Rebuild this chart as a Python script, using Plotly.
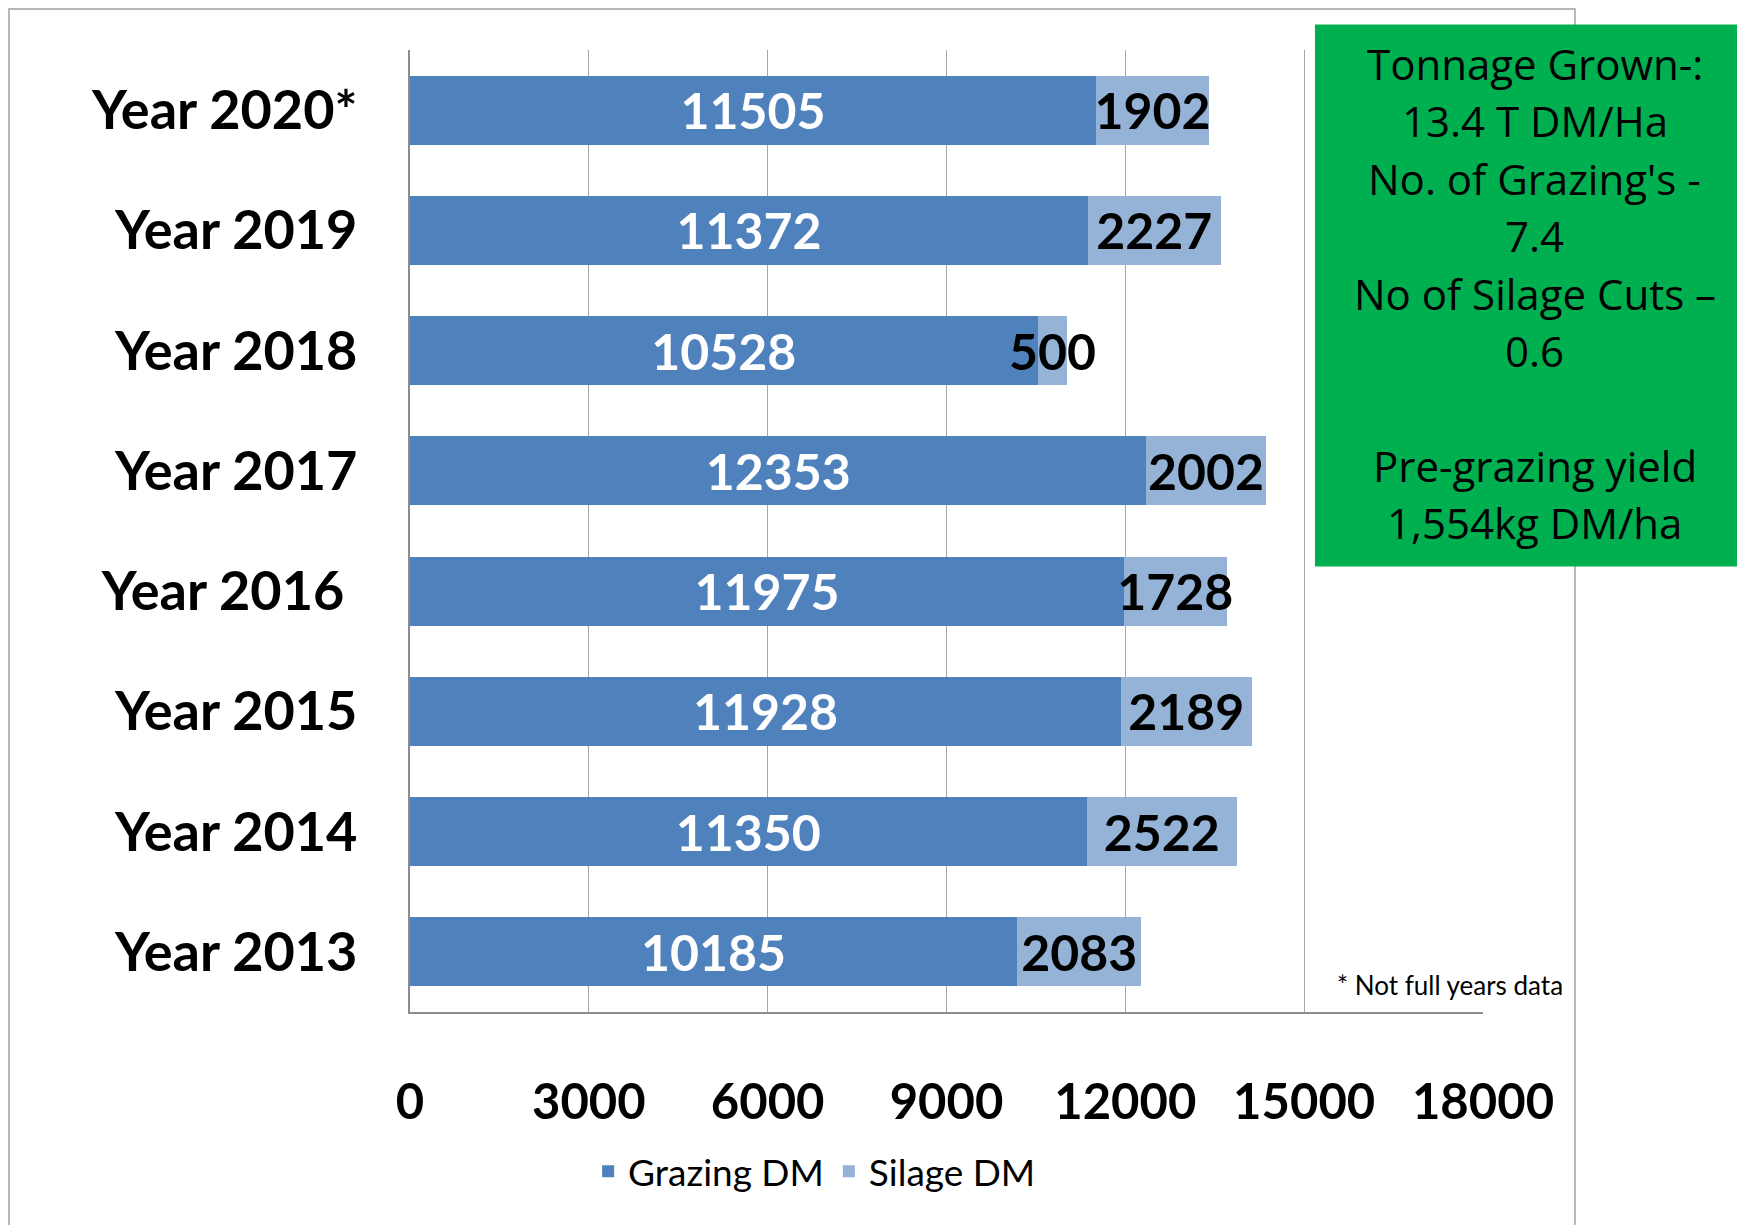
import plotly.graph_objects as go

years = ["Year 2020*", "Year 2019", "Year 2018", "Year 2017",
         "Year 2016\u00a0", "Year 2015", "Year 2014", "Year 2013"]
grazing_dm = [11505, 11372, 10528, 12353, 11975, 11928, 11350, 10185]
silage_dm = [1902, 2227, 500, 2002, 1728, 2189, 2522, 2083]
x_ticks = [0, 3000, 6000, 9000, 12000, 15000, 18000]

info_lines = ["Tonnage Grown-:", "13.4 T DM/Ha", "No. of Grazing's -", "7.4",
              "No of Silage Cuts \u2013", "0.6", "", "Pre-grazing yield", "1,554kg DM/ha"]

FONT = "Lato, sans-serif"

fig = go.Figure()
fig.add_trace(go.Bar(
    y=years, x=grazing_dm, name="Grazing DM", orientation="h",
    marker=dict(color="#4f81bd", line=dict(width=0)),
    text=[str(v) for v in grazing_dm], textposition="inside",
    insidetextanchor="middle", textangle=0, constraintext="none",
    textfont=dict(family=FONT, size=50, color="white", weight="bold"),
))
fig.add_trace(go.Bar(
    y=years, x=silage_dm, name="Silage DM", orientation="h",
    marker=dict(color="#95b3d7", line=dict(width=0)),
    text=[str(v) for v in silage_dm], textposition="inside",
    insidetextanchor="middle", textangle=0, constraintext="none",
    textfont=dict(family=FONT, size=50, color="black", weight="bold"),
))

# plot area: 402..1475 x 42..1004 inside the figure (page body adds 8px)
PH = 962
annotations = [
    dict(xref="paper", yref="paper", x=0.862, y=0.028, xanchor="left", yanchor="middle",
         showarrow=False, text="* Not full years data",
         font=dict(family=FONT, size=26, color="black")),
]
for i, line in enumerate(info_lines):
    if not line:
        continue
    py = 63.4 + i * 57.4
    annotations.append(dict(
        xref="paper", yref="paper", x=1.0484, y=(1012 - py) / PH,
        xanchor="center", yanchor="middle", showarrow=False, text=line,
        font=dict(family="Open Sans, sans-serif", size=42, color="black")))

fig.update_layout(
    width=1745, height=1217,
    margin=dict(l=402, r=270, t=42, b=213, autoexpand=False),
    barmode="stack", bargap=0.426,
    paper_bgcolor="white", plot_bgcolor="white",
    font=dict(family=FONT, color="black"),
    showlegend=True,
    legend=dict(orientation="h", x=0.166, y=-0.166, xanchor="left", yanchor="middle",
                font=dict(family=FONT, size=37, color="black"),
                traceorder="normal", bgcolor="rgba(0,0,0,0)"),
    xaxis=dict(range=[0, 18000], tickvals=x_ticks, ticktext=[str(t) for t in x_ticks],
               tickangle=0,
               showgrid=True, gridcolor="#a6a6a6", gridwidth=1,
               showline=True, linecolor="#8c8c8c", linewidth=1.5,
               zeroline=False, ticks="", ticklabelstandoff=46,
               tickfont=dict(family=FONT, size=49, color="black", weight="bold")),
    yaxis=dict(categoryorder="array", categoryarray=years[::-1],
               showgrid=False, showline=True, linecolor="#8c8c8c", linewidth=1.5,
               ticks="", ticklabelstandoff=40,
               tickfont=dict(family=FONT, size=54, color="black", weight="bold")),
    shapes=[
        dict(type="rect", xref="paper", yref="paper", x0=-0.3737, x1=1.0857, y0=-0.3, y1=1.0426,
             line=dict(color="#a0a0a0", width=1.5), fillcolor="rgba(0,0,0,0)", layer="above"),
        dict(type="rect", xref="paper", yref="paper", x0=0.8434, x1=1.32, y0=0.463, y1=1.0265,
             line=dict(width=0), fillcolor="#00b050", layer="above"),
    ],
    annotations=annotations,
)

fig.write_html("out.html")
